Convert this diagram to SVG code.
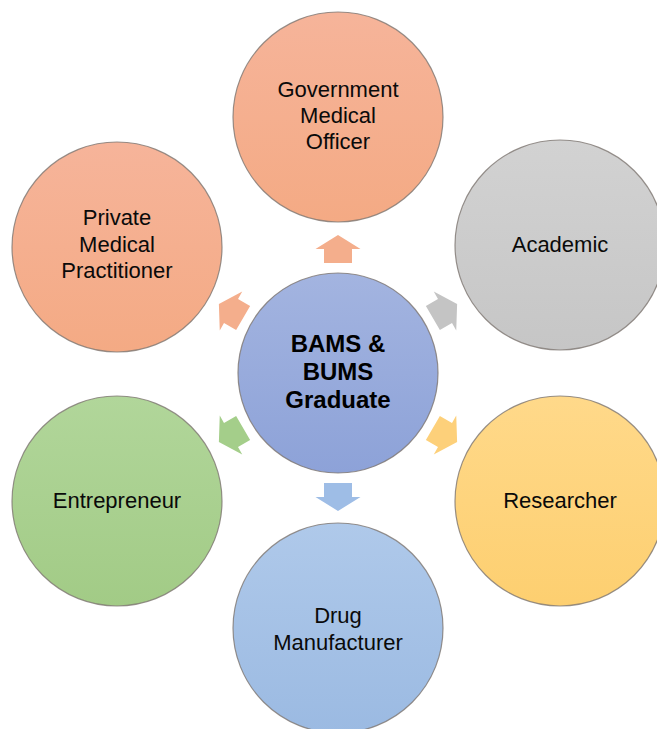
<svg xmlns="http://www.w3.org/2000/svg" width="657" height="729" viewBox="0 0 657 729">
<defs>
<linearGradient id="gOr" x1="0" y1="0" x2="0" y2="1"><stop offset="0" stop-color="#F6B49A"/><stop offset="1" stop-color="#F4AA84"/></linearGradient>
<linearGradient id="gGy" x1="0" y1="0" x2="0" y2="1"><stop offset="0" stop-color="#D2D2D2"/><stop offset="1" stop-color="#C6C6C6"/></linearGradient>
<linearGradient id="gYe" x1="0" y1="0" x2="0" y2="1"><stop offset="0" stop-color="#FFD98A"/><stop offset="1" stop-color="#FDCF70"/></linearGradient>
<linearGradient id="gGr" x1="0" y1="0" x2="0" y2="1"><stop offset="0" stop-color="#B1D69A"/><stop offset="1" stop-color="#A2CB86"/></linearGradient>
<linearGradient id="gBl" x1="0" y1="0" x2="0" y2="1"><stop offset="0" stop-color="#AFC9EA"/><stop offset="1" stop-color="#9BBAE2"/></linearGradient>
<linearGradient id="gCe" x1="0" y1="0" x2="0" y2="1"><stop offset="0" stop-color="#A3B4E0"/><stop offset="1" stop-color="#8DA2D8"/></linearGradient>
<polygon id="arr" points="-14,-14 0,-14 0,-22.5 14,0 0,22.5 0,14 -14,14"/>
</defs>
<style>
.c{stroke:#7d7570;stroke-width:1.2;stroke-opacity:0.8}
.t{font-family:"Liberation Sans",Arial,sans-serif;font-size:22px;fill:#0a0a0a;text-anchor:middle}
.b{font-family:"Liberation Sans",Arial,sans-serif;font-size:24px;font-weight:bold;fill:#000;text-anchor:middle}
</style>
<rect width="657" height="729" fill="#fff"/>
<g id="connectors">
<use href="#arr" fill="#F4AE8C" transform="translate(338,249) rotate(-90)"/>
<use href="#arr" fill="#C4C4C4" transform="translate(445,311) rotate(-30)"/>
<use href="#arr" fill="#FDD07A" transform="translate(445,435) rotate(30)"/>
<use href="#arr" fill="#9EBDE6" transform="translate(338,497) rotate(90)"/>
<use href="#arr" fill="#A4CE8A" transform="translate(231,435) rotate(150)"/>
<use href="#arr" fill="#F4AE8C" transform="translate(231,311) rotate(-150)"/>
</g>
<g id="center">
<circle class="c" cx="338" cy="373" r="100" fill="url(#gCe)"/>
<text class="b" x="338" y="352">BAMS &amp;</text>
<text class="b" x="338" y="380">BUMS</text>
<text class="b" x="338" y="408">Graduate</text>
</g>
<g id="government">
<circle class="c" cx="338" cy="117" r="105" fill="url(#gOr)"/>
<text class="t" x="338" y="97">Government</text>
<text class="t" x="338" y="123">Medical</text>
<text class="t" x="338" y="149">Officer</text>
</g>
<g id="academic">
<circle class="c" cx="560" cy="245" r="105" fill="url(#gGy)"/>
<text class="t" x="560" y="252">Academic</text>
</g>
<g id="researcher">
<circle class="c" cx="560" cy="501" r="105" fill="url(#gYe)"/>
<text class="t" x="560" y="508">Researcher</text>
</g>
<g id="drug">
<circle class="c" cx="338" cy="628" r="105" fill="url(#gBl)"/>
<text class="t" x="338" y="623">Drug</text>
<text class="t" x="338" y="650">Manufacturer</text>
</g>
<g id="entrepreneur">
<circle class="c" cx="117" cy="501" r="105" fill="url(#gGr)"/>
<text class="t" x="117" y="508">Entrepreneur</text>
</g>
<g id="private">
<circle class="c" cx="117" cy="247" r="105" fill="url(#gOr)"/>
<text class="t" x="117" y="225">Private</text>
<text class="t" x="117" y="252">Medical</text>
<text class="t" x="117" y="278">Practitioner</text>
</g>
</svg>
